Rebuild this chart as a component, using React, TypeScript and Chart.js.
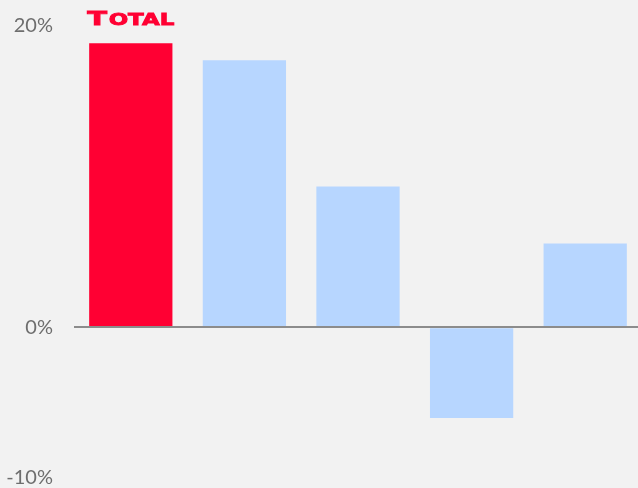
import React, { useEffect, useRef } from "react";
import { Chart, registerables } from "chart.js";

Chart.register(...registerables);

const categories = ["TOTAL", "Peer 1", "Peer 2", "Peer 3", "Peer 4"];
const values = [18.86, 17.73, 9.35, -6.02, 5.56];
const barColors = ["#ff0033", "#b7d6ff", "#b7d6ff", "#b7d6ff", "#b7d6ff"];
const tickValues = [20, 0, -10];
const logoLabel = "TOTAL";

const logoPlugin = {
  id: "logoLabel",
  afterDatasetsDraw(chart: any) {
    const meta = chart.getDatasetMeta(0);
    const bar = meta.data[0];
    if (!bar) return;
    const ctx = chart.ctx;
    ctx.save();
    ctx.fillStyle = "#ff0033";
    ctx.textBaseline = "alphabetic";
    const first = logoLabel.charAt(0);
    const rest = logoLabel.slice(1);
    ctx.font = "bold 19px 'DejaVu Sans'";
    const w1 = ctx.measureText(first).width;
    ctx.font = "bold 15px 'DejaVu Sans'";
    const w2 = ctx.measureText(rest).width;
    const targetW = 87;
    const sx = targetW / (w1 + w2 + 1);
    const left = bar.x - targetW / 2;
    const baseY = 25;
    ctx.translate(left, baseY);
    ctx.scale(sx, 1);
    ctx.lineWidth = 0.8;
    ctx.strokeStyle = "#ff0033";
    ctx.font = "bold 19px 'DejaVu Sans'";
    ctx.fillText(first, 0, 0);
    ctx.strokeText(first, 0, 0);
    ctx.font = "bold 15px 'DejaVu Sans'";
    ctx.fillText(rest, w1 + 1, 0);
    ctx.strokeText(rest, w1 + 1, 0);
    ctx.restore();
  },
};

export default function App() {
  const ref = useRef<HTMLCanvasElement>(null);
  useEffect(() => {
    if (!ref.current) return;
    const chart = new Chart(ref.current, {
      type: "bar",
      data: {
        labels: categories,
        datasets: [
          {
            data: values,
            backgroundColor: barColors,
            borderWidth: 0,
            barPercentage: 0.733,
            categoryPercentage: 1,
          },
        ],
      },
      options: {
        responsive: false,
        animation: false,
        layout: { padding: { top: 26, bottom: 11, left: 0, right: 0 } },
        plugins: { legend: { display: false }, tooltip: { enabled: false } },
        scales: {
          x: {
            display: false,
            grid: { display: false },
          },
          y: {
            min: -10,
            max: 20,
            afterBuildTicks: (scale: any) => {
              scale.ticks = tickValues.map((v) => ({ value: v }));
            },
            afterFit: (scale: any) => {
              scale.width = 74;
            },
            border: { display: false },
            grid: {
              z: 1,
              drawTicks: true,
              tickLength: 21,
              tickColor: "rgba(0,0,0,0)",
              lineWidth: 2,
              color: (c: any) => (c.tick && c.tick.value === 0 ? "#8c8c8c" : "rgba(0,0,0,0)"),
            },
            ticks: {
              padding: 0,
              color: "#6e6e6e",
              font: { family: "Lato", size: 20, weight: "normal" },
              callback: (v: any) => v + "%",
            },
          },
        },
      },
      plugins: [logoPlugin],
    });
    return () => chart.destroy();
  }, []);
  return (
    <div
      style={{
        position: "fixed",
        left: 0,
        top: 0,
        width: 638,
        height: 488,
        overflow: "hidden",
        background: "#f2f2f2",
      }}
    >
      <canvas ref={ref} width={642} height={490} style={{ display: "block" }} />
    </div>
  );
}
